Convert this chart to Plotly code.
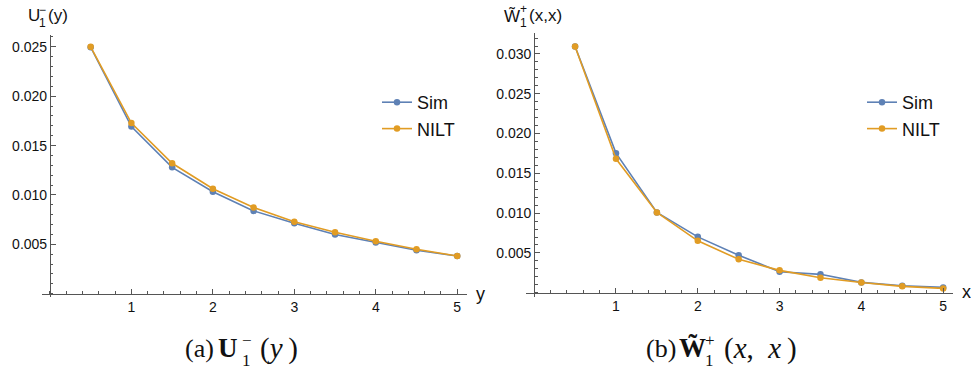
import plotly.graph_objects as go

# ---------------- data ----------------
pts = [0.5, 1.0, 1.5, 2.0, 2.5, 3.0, 3.5, 4.0, 4.5, 5.0]

u_sim = [0.02496, 0.01693, 0.01280, 0.01033, 0.00839, 0.00714, 0.00600, 0.00518, 0.00440, 0.00382]
u_nilt = [0.02500, 0.01728, 0.01321, 0.01063, 0.00874, 0.00728, 0.00623, 0.00531, 0.00450, 0.00382]

w_sim = [0.03095, 0.01754, 0.01009, 0.00702, 0.00471, 0.00264, 0.00231, 0.00130, 0.00087, 0.00067]
w_nilt = [0.03095, 0.01683, 0.01009, 0.00652, 0.00420, 0.00281, 0.00188, 0.00128, 0.00080, 0.00054]

x_ticks = [1, 2, 3, 4, 5]
u_ticks = [0.005, 0.010, 0.015, 0.020, 0.025]
u_ticklabels = ["0.005", "0.010", "0.015", "0.020", "0.025"]
w_ticks = [0.005, 0.010, 0.015, 0.020, 0.025, 0.030]
w_ticklabels = ["0.005", "0.010", "0.015", "0.020", "0.025", "0.030"]

BLUE = "#5E81B5"
ORANGE = "#E19C24"
AX = "#555555"
FONT = "Liberation Sans, Arial, sans-serif"
SERIF = "Liberation Serif, Times New Roman, serif"
INK = "#111111"

W, H = 971, 372

def px_dom_x(a, b):
    return [a / W, b / W]

def px_dom_y(top, bottom):
    return [1 - bottom / H, 1 - top / H]

xr = [-0.1, 5.12]
ur = [-0.0003, 0.0262]
wr = [-0.0005, 0.0326]

dx1 = px_dom_x(41.8, 467)
dy1 = px_dom_y(35, 296.7)
dx2 = px_dom_x(526, 953)
dy2 = px_dom_y(33.3, 296.7)

def frac(r, v):
    return (v - r[0]) / (r[1] - r[0])

fig = go.Figure()

def add(x, y, name, color, xa, ya, leg):
    fig.add_trace(go.Scatter(
        x=x, y=y, name=name, mode="lines+markers",
        line=dict(color=color, width=1.6),
        marker=dict(color=color, size=6.5),
        xaxis=xa, yaxis=ya, legend=leg, showlegend=True,
    ))

add(pts, u_sim, "Sim", BLUE, "x", "y", "legend")
add(pts, u_nilt, "NILT", ORANGE, "x", "y", "legend")
add(pts, w_sim, "Sim", BLUE, "x2", "y2", "legend2")
add(pts, w_nilt, "NILT", ORANGE, "x2", "y2", "legend2")

tickfont = dict(family=FONT, size=14, color=INK)

def xaxis(dom, ypos):
    return dict(
        domain=dom, range=xr, anchor="free", position=ypos,
        showgrid=False, zeroline=False, showline=True, linecolor=AX, linewidth=1,
        tickvals=x_ticks, ticks="inside", ticklen=5, tickcolor=AX, tickwidth=1,
        minor=dict(dtick=0.2, tick0=0, ticks="inside", ticklen=2.5, tickcolor=AX, tickwidth=1),
        tickfont=tickfont, fixedrange=True,
    )

def yaxis(dom, r, tv, tt, xpos):
    return dict(
        domain=dom, range=r, anchor="free", position=xpos,
        showgrid=False, zeroline=False, showline=True, linecolor=AX, linewidth=1,
        tickvals=tv, ticktext=tt, ticks="inside", ticklen=5, tickcolor=AX, tickwidth=1,
        minor=dict(dtick=0.001, tick0=0, ticks="inside", ticklen=2.5, tickcolor=AX, tickwidth=1),
        tickfont=tickfont, fixedrange=True,
    )

x1pos = dy1[0] + frac(ur, 0) * (dy1[1] - dy1[0])
x2pos = dy2[0] + frac(wr, 0) * (dy2[1] - dy2[0])
y1pos = dx1[0] + frac(xr, 0) * (dx1[1] - dx1[0])
y2pos = dx2[0] + frac(xr, 0) * (dx2[1] - dx2[0])

legfont = dict(family=FONT, size=18, color=INK)

fig.update_layout(
    width=W, height=H, autosize=False,
    margin=dict(l=0, r=0, t=0, b=0),
    paper_bgcolor="white", plot_bgcolor="white",
    xaxis=xaxis(dx1, x1pos),
    yaxis=yaxis(dy1, ur, u_ticks, u_ticklabels, y1pos),
    xaxis2=xaxis(dx2, x2pos),
    yaxis2=yaxis(dy2, wr, w_ticks, w_ticklabels, y2pos),
    legend=dict(x=377 / W, y=1 - 84 / H, xanchor="left", yanchor="top",
                font=legfont, bgcolor="rgba(0,0,0,0)", tracegroupgap=0, itemwidth=30),
    legend2=dict(x=862 / W, y=1 - 84 / H, xanchor="left", yanchor="top",
                 font=legfont, bgcolor="rgba(0,0,0,0)", tracegroupgap=0, itemwidth=30),
    showlegend=True,
)

def A(text, x, y, size, family=FONT):
    return dict(text=text, x=x / W, y=1 - y / H, xanchor="center", yanchor="middle",
                xref="paper", yref="paper", showarrow=False,
                font=dict(family=family, size=size, color=INK))

th = "\u2009"
annos = [
    # panel title (a): U_1^-(y)
    A("U", 34, 16, 17),
    A("−", 42.5, 10, 12),
    A("1", 42.5, 23, 12),
    A("(y)", 58, 16, 17),
    # panel title (b): W~_1^+(x,x)
    A("W̃", 511.5, 16, 17),
    A("+", 523.5, 9.5, 12),
    A("1", 523.5, 22.5, 12),
    A("(x,x)", 545.5, 16, 17),
    # axis labels
    A("y", 480, 294, 18),
    A("x", 966, 292, 18),
    # caption (a)
    A("(a)", 199.5, 348, 26, SERIF),
    A("<b>U</b>", 228, 348, 27, SERIF),
    A("1", 246, 360, 17, SERIF),
    A("−", 247, 340, 17, SERIF),
    A("(<i>y</i>" + th + ")", 279, 348, 29, SERIF),
    # caption (b)
    A("(b)", 660.5, 348, 26, SERIF),
    A("<b>W̃</b>", 692, 348, 27, SERIF),
    A("1", 709, 360, 17, SERIF),
    A("+", 710, 340, 17, SERIF),
    A("(<i>x</i>,\u2002<i>x</i>" + th + ")", 760, 348, 29, SERIF),
]
fig.update_layout(annotations=annos)

fig.write_html("out.html", config={"displayModeBar": False},
               post_script="document.body.style.margin='0px';document.body.style.overflow='hidden';")
